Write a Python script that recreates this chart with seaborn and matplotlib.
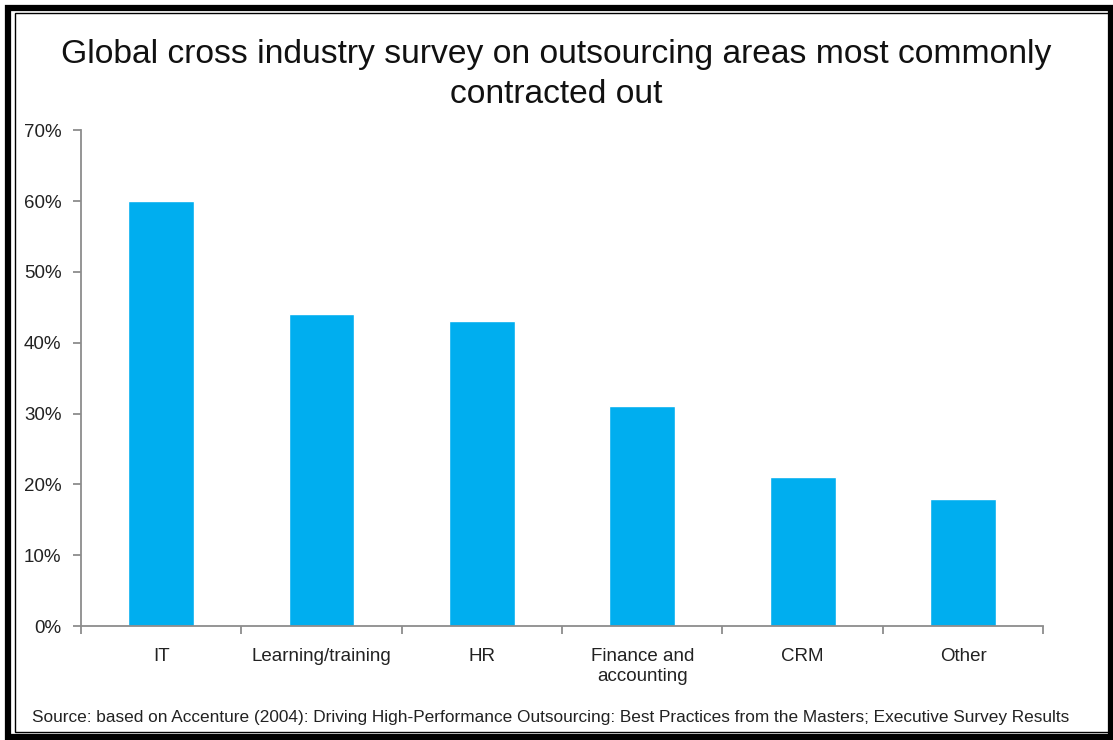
import matplotlib
matplotlib.use("Agg")
import matplotlib.pyplot as plt
import seaborn as sns
import pandas as pd
import numpy as np
from matplotlib.patches import Rectangle
from matplotlib.ticker import FixedLocator, PercentFormatter

categories = ["IT", "Learning/training", "HR", "Finance and\naccounting", "CRM", "Other"]
values = [60, 44, 43, 31, 21, 18]
yticks = [0, 10, 20, 30, 40, 50, 60, 70]

sns.set_theme(style="white")
plt.rcParams['font.family'] = ['Liberation Sans', 'DejaVu Sans']

df = pd.DataFrame({"area": categories, "pct": values})

fig = plt.figure(figsize=(11.13, 7.40), dpi=100)
ax = fig.add_axes([0.0728, 0.154, 0.8645, 0.670])
sns.barplot(data=df, x="area", y="pct", color="#00AEEF", saturation=1, width=0.41, ax=ax)

ax.set_ylim(0, 70)
ax.set_xlim(-0.5, 5.5)
ax.set_yticks(yticks)
ax.yaxis.set_major_formatter(PercentFormatter(decimals=0))
ax.set_xlabel("")
ax.set_ylabel("")
for s in ["top", "right"]:
    ax.spines[s].set_visible(False)
for s in ["left", "bottom"]:
    ax.spines[s].set_color("#8c8c8c")
    ax.spines[s].set_linewidth(1.3)
ax.tick_params(axis="y", which="major", left=True, length=6, width=1.3, color="#8c8c8c",
               labelsize=13.5, labelcolor="#222222", pad=8)
ax.tick_params(axis="x", which="major", bottom=False, length=0, labelsize=13.5, labelcolor="#222222", pad=16)
ax.xaxis.set_minor_locator(FixedLocator(np.arange(-0.5, 6.0, 1.0)))
ax.tick_params(axis="x", which="minor", bottom=True, length=6, width=1.3, color="#8c8c8c")
ax.grid(False)

fig.text(0.5, 0.899, "Global cross industry survey on outsourcing areas most commonly\ncontracted out",
         ha="center", va="center", fontsize=24.2, color="#111111", linespacing=1.38)
fig.text(0.495, 0.031,
         "Source: based on Accenture (2004): Driving High-Performance Outsourcing: Best Practices from the Masters; Executive Survey Results",
         ha="center", va="center", fontsize=12.4, color="#222222")

# double frame
fig.patches.append(Rectangle((0.0075, 0.004), 0.991, 0.985, transform=fig.transFigure,
                             fill=False, edgecolor="black", linewidth=4.5))
fig.patches.append(Rectangle((0.0135, 0.011), 0.984, 0.971, transform=fig.transFigure,
                             fill=False, edgecolor="black", linewidth=1))

fig.savefig("out.png", dpi=100)
